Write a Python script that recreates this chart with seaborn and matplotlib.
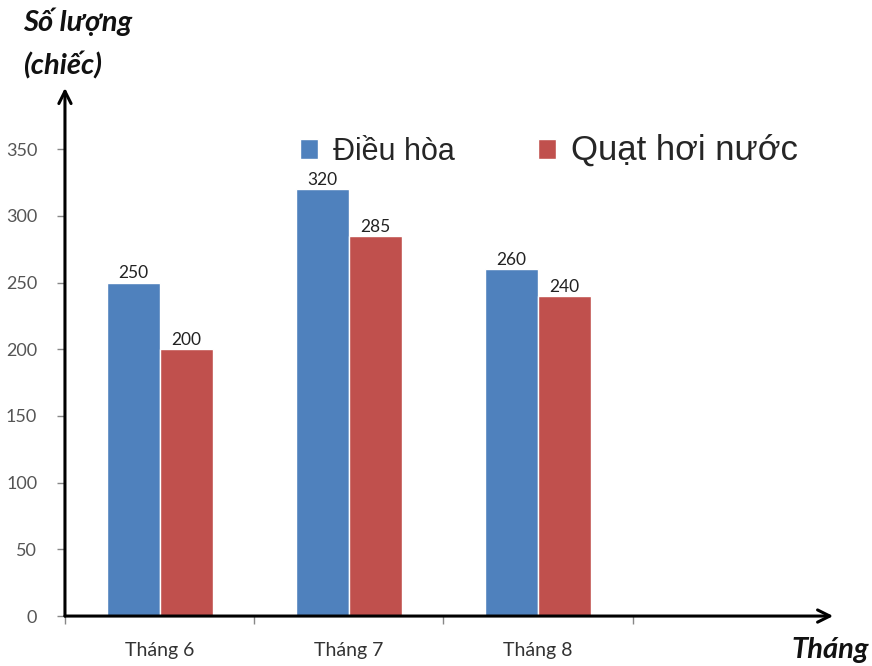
import pandas as pd
import seaborn as sns
import matplotlib.pyplot as plt

# data
months = ['Tháng 6', 'Tháng 7', 'Tháng 8']
dieu_hoa = [250, 320, 260]
quat_hoi_nuoc = [200, 285, 240]
series_names = ['Điều hòa', 'Quạt hơi nước']
colors = ['#4F81BD', '#C0504D']

df = pd.DataFrame({
    'month': months * 2,
    'count': dieu_hoa + quat_hoi_nuoc,
    'product': [series_names[0]] * 3 + [series_names[1]] * 3,
})

sns.set_style("white")
plt.rcParams['font.family'] = ['Lato', 'DejaVu Sans']

fig = plt.figure(figsize=(8.72, 6.66), dpi=100)
ax = fig.add_axes([0.0745, 0.075, 0.881, 0.793])

sns.barplot(data=df, x='month', y='count', hue='product',
            order=months, hue_order=series_names,
            palette=colors, width=0.56, saturation=1,
            errorbar=None, ax=ax)

# value labels on bars
for cont in ax.containers:
    ax.bar_label(cont, fontsize=12.5, color='#222222', padding=1)

ax.set_xlim(-0.5, 3.56)
ax.set_ylim(0, 396)
ax.set_yticks(range(0, 351, 50))
ax.set_xticks(range(3))
ax.set_xticks([-0.5, 0.5, 1.5, 2.5], minor=True)
ax.tick_params(axis='x', which='major', bottom=True, length=0, pad=19,
               labelsize=14, labelcolor='#333333')
ax.tick_params(axis='x', which='minor', bottom=True, length=6, width=1,
               color='#888888', direction='out')
ax.tick_params(axis='y', left=True, length=6, width=1, color='#888888', direction='out',
               labelsize=13, labelcolor='#555555', pad=14)
ax.set_xlabel('')
ax.set_ylabel('')
for s in ax.spines.values():
    s.set_visible(False)

# axis arrows
ax.annotate('', xy=(0, 1), xytext=(0, 0), xycoords='axes fraction',
            arrowprops=dict(arrowstyle='->', lw=2.2, color='black',
                            mutation_scale=22, shrinkA=0, shrinkB=0))
ax.annotate('', xy=(1, 0), xytext=(0, 0), xycoords='axes fraction',
            arrowprops=dict(arrowstyle='->', lw=2.2, color='black',
                            mutation_scale=22, shrinkA=0, shrinkB=0))

# legend
leg = ax.legend(loc='upper left', bbox_to_anchor=(0.27, 0.965), ncol=2, frameon=False,
                handlelength=0.6, handleheight=0.6, handletextpad=0.5, columnspacing=2.7,
                prop={'family': ['Liberation Sans', 'DejaVu Sans'], 'size': 22})
leg.get_texts()[1].set_fontsize(25)

# axis titles
fig.text(0.026, 0.967, 'Số lượng', fontsize=21, fontweight='bold', fontstyle='italic',
         color='#111111', va='center', ha='left')
fig.text(0.026, 0.902, '(chiếc)', fontsize=21, fontweight='bold', fontstyle='italic',
         color='#111111', va='center', ha='left')
fig.text(0.996, 0.024, 'Tháng', fontsize=21, fontweight='bold', fontstyle='italic',
         color='#111111', va='center', ha='right')

plt.savefig('out.png', dpi=100)
plt.close()
